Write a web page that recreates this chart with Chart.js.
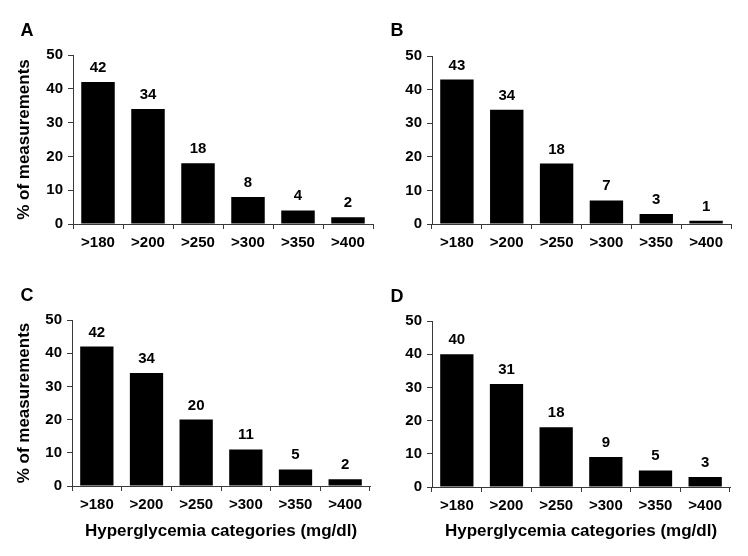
<!DOCTYPE html>
<html>
<head>
<meta charset="utf-8">
<script src="https://cdn.jsdelivr.net/npm/chart.js@4"></script>
<style>
  html, body { margin: 0; padding: 0; background: #ffffff; }
  #wrap { position: relative; width: 748px; height: 556px; background: #fff; }
  canvas { position: absolute; }
</style>
</head>
<body>
<div id="wrap">
  <canvas id="cA" width="374" height="278" style="left:0px;top:0px"></canvas>
  <canvas id="cB" width="374" height="278" style="left:374px;top:0px"></canvas>
  <canvas id="cC" width="374" height="278" style="left:0px;top:278px"></canvas>
  <canvas id="cD" width="374" height="278" style="left:374px;top:278px"></canvas>
</div>
<script>
// ---- data ----
const categories = ['>180', '>200', '>250', '>300', '>350', '>400'];
const valuesA = [42, 34, 18, 8, 4, 2];
const valuesB = [43, 34, 18, 7, 3, 1];
const valuesC = [42, 34, 20, 11, 5, 2];
const valuesD = [40, 31, 18, 9, 5, 3];
const yTickValues = [0, 10, 20, 30, 40, 50];
const panelLetters = ['A', 'B', 'C', 'D'];
const yAxisTitle = '% of measurements';
const xAxisTitle = 'Hyperglycemia categories (mg/dl)';

const FONT = "'Liberation Sans', Arial, Helvetica, sans-serif";
const AXIS_COLOR = '#3a3a3a';

// value labels above bars + panel letter
const labelPlugin = {
  id: 'labelPlugin',
  afterDatasetsDraw(chart, args, opts) {
    const ctx = chart.ctx;
    ctx.save();
    ctx.fillStyle = '#000';
    ctx.font = 'bold 15px ' + FONT;
    ctx.textAlign = 'center';
    ctx.textBaseline = 'alphabetic';
    const meta = chart.getDatasetMeta(0);
    const data = chart.data.datasets[0].data;
    meta.data.forEach((bar, i) => {
      ctx.fillText(String(data[i]), bar.x, bar.y - 10);
    });
    ctx.font = 'bold 18px ' + FONT;
    ctx.textBaseline = 'middle';
    ctx.fillText(opts.letter, opts.lx, opts.ly);
    ctx.restore();
  }
};

function makePanel(id, values, letter, area, showYTitle, showXTitle, letterPos) {
  const W = 374, H = 278;
  new Chart(document.getElementById(id), {
    type: 'bar',
    data: {
      labels: categories,
      datasets: [{
        data: values,
        backgroundColor: '#000000',
        borderWidth: 0,
        barPercentage: 0.67,
        categoryPercentage: 1.0
      }]
    },
    options: {
      responsive: false,
      animation: false,
      devicePixelRatio: 1,
      layout: { padding: { left: 0, top: area.t, right: W - area.r, bottom: 0 } },
      plugins: {
        legend: { display: false },
        tooltip: { enabled: false },
        labelPlugin: { letter: letter, lx: letterPos[0], ly: letterPos[1] }
      },
      scales: {
        x: {
          offset: true,
          grid: { offset: true, drawOnChartArea: false, drawTicks: true, tickLength: 5, color: AXIS_COLOR, lineWidth: 1 },
          border: { display: true, color: AXIS_COLOR, width: 1 },
          ticks: { color: '#000', font: { family: FONT, size: 15, weight: 'bold' }, padding: 5, maxRotation: 0, autoSkip: false },
          title: { display: showXTitle, text: xAxisTitle, color: '#000', font: { family: FONT, size: 17, weight: 'bold' }, padding: { top: 0, bottom: 14 } },
          afterFit: (s) => { s.height = H - area.b; }
        },
        y: {
          min: yTickValues[0],
          max: yTickValues[yTickValues.length - 1],
          afterBuildTicks: (s) => { s.ticks = yTickValues.map(v => ({ value: v })); },
          grid: { drawOnChartArea: false, drawTicks: true, tickLength: 5, color: AXIS_COLOR, lineWidth: 1 },
          border: { display: true, color: AXIS_COLOR, width: 1 },
          ticks: { color: '#000', font: { family: FONT, size: 15, weight: 'bold' }, padding: 5 },
          title: { display: showYTitle, text: yAxisTitle, color: '#000', font: { family: FONT, size: 17, weight: 'bold' }, padding: { top: 14, bottom: 0 } },
          afterFit: (s) => { s.width = area.l; }
        }
      }
    },
    plugins: [labelPlugin]
  });
}

makePanel('cA', valuesA, panelLetters[0], { l: 73, r: 373, t: 55, b: 224 }, true, false, [27, 31]);
makePanel('cB', valuesB, panelLetters[1], { l: 58, r: 357, t: 56, b: 224 }, false, false, [23, 31]);
makePanel('cC', valuesC, panelLetters[2], { l: 72, r: 370, t: 42, b: 208 }, true, true, [27, 18]);
makePanel('cD', valuesD, panelLetters[3], { l: 58, r: 356, t: 43, b: 209 }, false, true, [23, 19]);
</script>
</body>
</html>
